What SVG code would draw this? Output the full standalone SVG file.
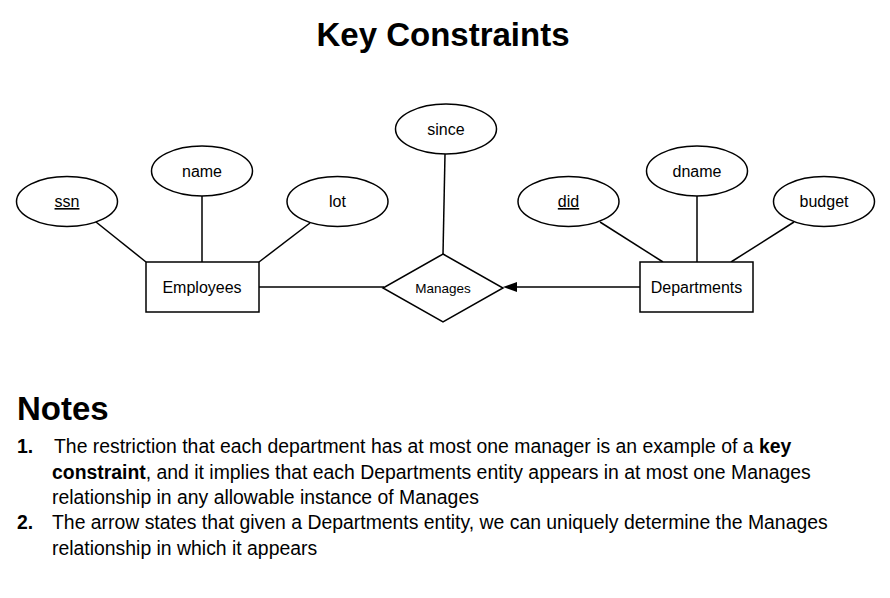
<svg xmlns="http://www.w3.org/2000/svg" width="890" height="598" viewBox="0 0 890 598">
<defs>
<style>
text{font-family:"Liberation Sans",Arial,Helvetica,sans-serif;fill:#000}
.shape{fill:#fff;stroke:#000;stroke-width:1.5}
.conn{stroke:#000;stroke-width:1.5;fill:none}
.lbl{font-size:16px;text-anchor:middle}
.title{font-size:33px;font-weight:bold}
.body{font-size:19.4px}
</style>
</defs>
<rect width="890" height="598" fill="#fff"/>
<text class="title" x="443" y="46" text-anchor="middle">Key Constraints</text>
<g id="connectors">
<line class="conn" x1="96" y1="222" x2="146" y2="262"/>
<line class="conn" x1="202" y1="196" x2="202" y2="262"/>
<line class="conn" x1="310" y1="223" x2="259" y2="262"/>
<line class="conn" x1="259" y1="287" x2="384" y2="287"/>
<line class="conn" x1="445" y1="154" x2="443" y2="254"/>
<line class="conn" x1="640" y1="287" x2="510" y2="287"/>
<path d="M503,287 L517,282 L517,292 z" fill="#000"/>
<line class="conn" x1="600" y1="222" x2="663" y2="262"/>
<line class="conn" x1="697" y1="196" x2="697" y2="262"/>
<line class="conn" x1="794" y1="222" x2="731" y2="262"/>
</g>
<g id="ssn"><ellipse class="shape" cx="67" cy="201.5" rx="50.5" ry="25"/><text class="lbl" x="67" y="207" text-decoration="underline">ssn</text></g>
<g id="name"><ellipse class="shape" cx="202" cy="171" rx="50.5" ry="25"/><text class="lbl" x="202" y="176.5">name</text></g>
<g id="lot"><ellipse class="shape" cx="337.5" cy="201.5" rx="50.5" ry="25"/><text class="lbl" x="337.5" y="207">lot</text></g>
<g id="employees"><rect class="shape" x="146" y="262" width="113" height="50"/><text class="lbl" x="202" y="293">Employees</text></g>
<g id="since"><ellipse class="shape" cx="446" cy="129" rx="50.5" ry="25"/><text class="lbl" x="446" y="134.5">since</text></g>
<g id="manages"><polygon class="shape" points="443,254 503,288 443,322 383,288"/><text x="443" y="292.5" text-anchor="middle" font-size="13.5">Manages</text></g>
<g id="did"><ellipse class="shape" cx="568.5" cy="201.5" rx="50.5" ry="25"/><text class="lbl" x="568.5" y="207" text-decoration="underline">did</text></g>
<g id="dname"><ellipse class="shape" cx="697" cy="171" rx="50.5" ry="25"/><text class="lbl" x="697" y="176.5">dname</text></g>
<g id="budget"><ellipse class="shape" cx="824" cy="201.5" rx="50.5" ry="25"/><text class="lbl" x="824" y="207">budget</text></g>
<g id="departments"><rect class="shape" x="640" y="262" width="113" height="50"/><text class="lbl" x="696.5" y="293">Departments</text></g>
<text class="title" x="17" y="420">Notes</text>
<text class="body" x="17" y="453" font-weight="bold">1.</text>
<text class="body" x="54" y="453">The restriction that each department has at most one manager is an example of a <tspan font-weight="bold">key</tspan></text>
<text class="body" x="52" y="479"><tspan font-weight="bold">constraint</tspan>, and it implies that each Departments entity appears in at most one Manages</text>
<text class="body" x="52" y="504">relationship in any allowable instance of Manages</text>
<text class="body" x="17" y="529" font-weight="bold">2.</text>
<text class="body" x="52" y="529">The arrow states that given a Departments entity, we can uniquely determine the Manages</text>
<text class="body" x="52" y="555">relationship in which it appears</text>
</svg>
